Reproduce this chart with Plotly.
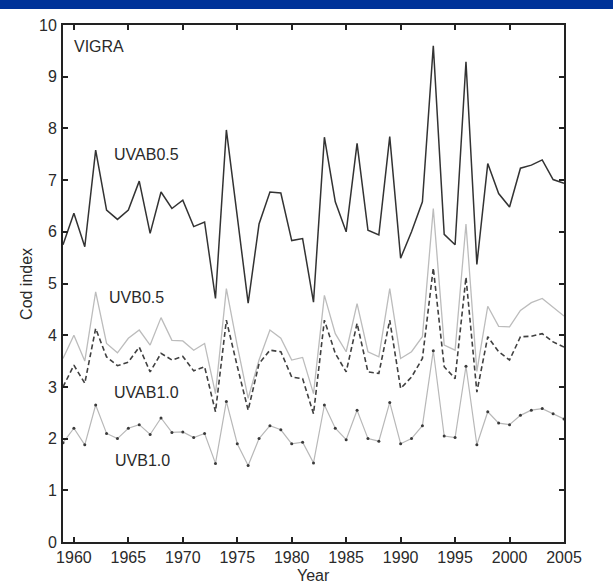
import plotly.graph_objects as go

# Cod index time series, VIGRA station
years = list(range(1959, 2006))

uvab05 = [5.75, 6.36, 5.71, 7.58, 6.42, 6.24, 6.42, 6.98, 5.97, 6.77,
          6.45, 6.61, 6.10, 6.19, 4.71, 7.97, 6.30, 4.62, 6.15, 6.77,
          6.75, 5.83, 5.87, 4.64, 7.83, 6.58, 6.00, 7.71, 6.03, 5.94,
          7.84, 5.49, 6.00, 6.58, 9.60, 5.95, 5.75, 9.29, 5.37, 7.32,
          6.74, 6.48, 7.23, 7.29, 7.39, 7.01, 6.94]

uvb05 = [3.55, 4.00, 3.50, 4.84, 3.84, 3.66, 3.94, 4.10, 3.81, 4.34,
         3.90, 3.89, 3.71, 3.84, 2.87, 4.90, 3.80, 2.78, 3.52, 4.10,
         3.94, 3.52, 3.57, 2.87, 4.77, 4.03, 3.68, 4.61, 3.68, 3.58,
         4.90, 3.55, 3.68, 3.97, 6.45, 3.81, 3.71, 6.15, 3.30, 4.56,
         4.17, 4.16, 4.48, 4.63, 4.71, 4.54, 4.37]

uvab10 = [3.00, 3.42, 3.07, 4.13, 3.58, 3.41, 3.48, 3.77, 3.29, 3.65,
          3.52, 3.59, 3.31, 3.39, 2.52, 4.29, 3.40, 2.55, 3.45, 3.71,
          3.68, 3.19, 3.16, 2.48, 4.29, 3.65, 3.29, 4.23, 3.29, 3.26,
          4.29, 2.97, 3.19, 3.55, 5.30, 3.39, 3.16, 5.12, 2.90, 3.97,
          3.68, 3.52, 3.97, 3.98, 4.03, 3.87, 3.77]

uvb10 = [1.92, 2.20, 1.88, 2.65, 2.10, 2.00, 2.20, 2.27, 2.08, 2.40,
         2.12, 2.13, 2.02, 2.10, 1.52, 2.72, 1.90, 1.48, 2.00, 2.25,
         2.17, 1.90, 1.93, 1.53, 2.65, 2.20, 1.98, 2.55, 2.00, 1.95,
         2.70, 1.90, 2.00, 2.25, 3.70, 2.05, 2.02, 3.40, 1.88, 2.52,
         2.30, 2.27, 2.45, 2.55, 2.58, 2.48, 2.38]

x_ticks = list(range(1960, 2006, 5))
y_ticks = list(range(0, 11))

FONT = "Liberation Sans, Arial, sans-serif"
TEXT = "#2a2a2a"

fig = go.Figure()

fig.add_trace(go.Scatter(x=years, y=uvb10, mode="lines+markers",
                         line=dict(color="#b8b8b8", width=1.2),
                         marker=dict(color="#3a3a3a", size=3)))
fig.add_trace(go.Scatter(x=years, y=uvb05, mode="lines",
                         line=dict(color="#bcbcbc", width=1.3)))
fig.add_trace(go.Scatter(x=years, y=uvab10, mode="lines",
                         line=dict(color="#404040", width=1.6, dash="5px,3px")))
fig.add_trace(go.Scatter(x=years, y=uvab05, mode="lines",
                         line=dict(color="#333333", width=1.5)))

labels = [
    ("VIGRA", 1959.85, 9.58),
    ("UVAB0.5", 1963.5, 7.5),
    ("UVB0.5", 1963.05, 4.72),
    ("UVAB1.0", 1963.5, 2.9),
    ("UVB1.0", 1963.6, 1.57),
]
annotations = [
    dict(text=t, x=x, y=y, xref="x", yref="y", xanchor="left", yanchor="middle",
         showarrow=False, font=dict(family=FONT, size=16, color=TEXT))
    for t, x, y in labels
]
annotations += [
    dict(text="Year", x=0.5, y=-0.064, xref="paper", yref="paper",
         xanchor="center", yanchor="middle", showarrow=False,
         font=dict(family=FONT, size=16, color=TEXT)),
    dict(text="Cod index", x=-0.073, y=0.5, xref="paper", yref="paper",
         xanchor="center", yanchor="middle", textangle=-90, showarrow=False,
         font=dict(family=FONT, size=16, color=TEXT)),
]

axis_common = dict(
    showgrid=False, zeroline=False, showline=True, linecolor="#222222",
    linewidth=2, mirror="allticks", ticks="inside", ticklen=5, tickwidth=1.5,
    tickcolor="#222222", tickfont=dict(family=FONT, size=16, color=TEXT),
)

fig.update_layout(
    width=613, height=583,
    margin=dict(l=63, r=49, t=25, b=41),
    paper_bgcolor="white", plot_bgcolor="white",
    showlegend=False,
    xaxis=dict(range=[1959, 2005], tickvals=x_ticks, ticklabelstandoff=0,
               **axis_common),
    yaxis=dict(range=[0, 10], tickvals=y_ticks, ticklabelstandoff=1,
               **axis_common),
    annotations=annotations,
    shapes=[dict(type="rect", xref="paper", yref="paper",
                 x0=-0.2, x1=1.2, y0=1.031, y1=1.06,
                 fillcolor="#003399", line=dict(width=0), layer="above")],
)

fig.write_html("out.html")
